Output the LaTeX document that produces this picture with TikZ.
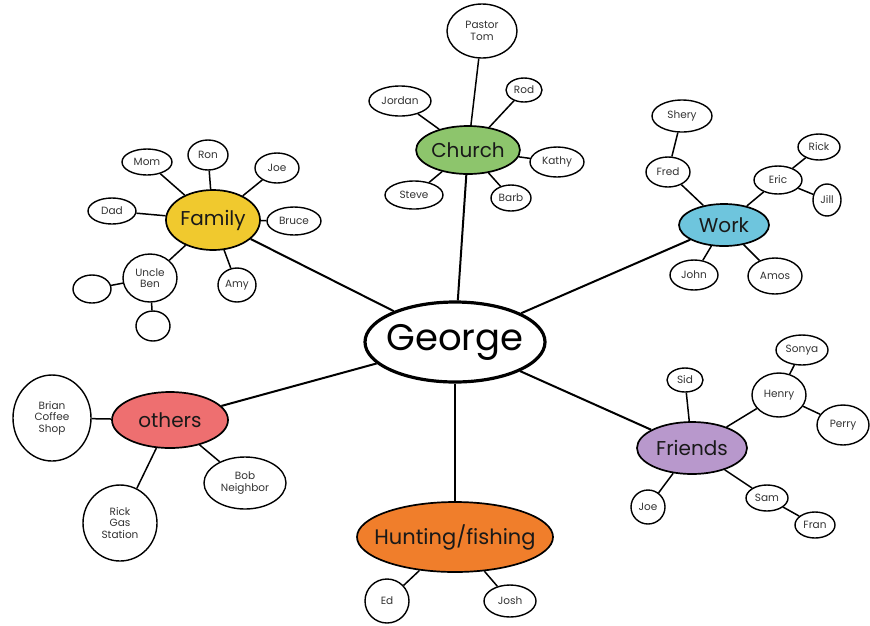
\documentclass[tikz,border=0pt]{standalone}
\usepackage{fontspec}
\setmainfont{Poppins}
\usetikzlibrary{shapes.geometric}
\definecolor{famc}{HTML}{F0C92E}
\definecolor{chc}{HTML}{8DC56C}
\definecolor{wkc}{HTML}{6EC5DD}
\definecolor{frc}{HTML}{B898CC}
\definecolor{otc}{HTML}{EE6F70}
\definecolor{huc}{HTML}{F07E2B}
\tikzset{
  leaf/.style={ellipse, draw=black, line width=1.4pt, inner sep=0pt, fill=white,
    font=\fontsize{10.5}{11.5}\selectfont, text=black!80, align=center},
  cat/.style={ellipse, draw=black, line width=1.7pt, inner sep=0pt,
    font=\fontsize{20}{22}\selectfont, text=black!90},
  main/.style={line width=2pt},
  sub/.style={line width=1.5pt}
}
\begin{document}
\begin{tikzpicture}[x=1pt,y=-1pt]
\useasboundingbox (0,0) rectangle (870,625);
% George
\node[ellipse, draw=black, line width=3.2pt, fill=white, inner sep=0pt, inner xsep=-16pt,
  minimum width=180pt, minimum height=80pt, font=\fontsize{37}{40}\selectfont] (george) at (455,342) {George};
% Family
\node[cat, fill=famc, minimum width=94pt, minimum height=60pt] (family) at (213,220) {Family};
\node[leaf, minimum width=50pt, minimum height=26pt] (mom) at (147,162) {Mom};
\node[leaf, minimum width=40pt, minimum height=30pt] (ron) at (208,155) {Ron};
\node[leaf, minimum width=44pt, minimum height=30pt] (joe1) at (277,168) {Joe};
\node[leaf, minimum width=48pt, minimum height=26pt] (dad) at (112,211) {Dad};
\node[leaf, minimum width=54pt, minimum height=28pt] (bruce) at (294,221) {Bruce};
\node[leaf, minimum width=54pt, minimum height=48pt] (ben) at (150,278) {Uncle\\Ben};
\node[leaf, minimum width=38pt, minimum height=34pt] (amy) at (237,285) {Amy};
\node[leaf, minimum width=38pt, minimum height=28pt] (e1) at (92,289) {};
\node[leaf, minimum width=34pt, minimum height=30pt] (e2) at (153,326) {};
% Church
\node[cat, fill=chc, minimum width=100pt, minimum height=48pt] (church) at (468,150) {Church};
\node[leaf, minimum width=70pt, minimum height=54pt] (pastor) at (482,31) {Pastor\\Tom};
\node[leaf, minimum width=62pt, minimum height=30pt] (jordan) at (400,101) {Jordan};
\node[leaf, minimum width=36pt, minimum height=24pt] (rod) at (524,90) {Rod};
\node[leaf, minimum width=54pt, minimum height=30pt] (kathy) at (557,162) {Kathy};
\node[leaf, minimum width=58pt, minimum height=28pt] (steve) at (414,195) {Steve};
\node[leaf, minimum width=40pt, minimum height=26pt] (barb) at (511,198) {Barb};
% Work
\node[cat, fill=wkc, minimum width=90pt, minimum height=42pt] (work) at (724,225) {Work};
\node[leaf, minimum width=60pt, minimum height=32pt] (shery) at (682,116) {Shery};
\node[leaf, minimum width=44pt, minimum height=30pt] (fred) at (668,172) {Fred};
\node[leaf, minimum width=48pt, minimum height=28pt] (eric) at (778,180) {Eric};
\node[leaf, minimum width=42pt, minimum height=26pt] (rick1) at (819,147) {Rick};
\node[leaf, minimum width=28pt, minimum height=32pt] (jill) at (827,200) {Jill};
\node[leaf, minimum width=48pt, minimum height=30pt] (john) at (694,275) {John};
\node[leaf, minimum width=54pt, minimum height=36pt] (amos) at (775,276) {Amos};
% Friends
\node[cat, fill=frc, minimum width=110pt, minimum height=52pt] (friends) at (692,448) {Friends};
\node[leaf, minimum width=36pt, minimum height=24pt] (sid) at (685,380) {Sid};
\node[leaf, minimum width=54pt, minimum height=44pt] (henry) at (779,395) {Henry};
\node[leaf, minimum width=52pt, minimum height=30pt] (sonya) at (802,350) {Sonya};
\node[leaf, minimum width=52pt, minimum height=40pt] (perry) at (843,425) {Perry};
\node[leaf, minimum width=34pt, minimum height=34pt] (joe2) at (648,507) {Joe};
\node[leaf, minimum width=42pt, minimum height=26pt] (sam) at (767,498) {Sam};
\node[leaf, minimum width=40pt, minimum height=26pt] (fran) at (815,525) {Fran};
% others
\node[cat, fill=otc, minimum width=116pt, minimum height=56pt] (others) at (170,420) {others};
\node[leaf, minimum width=78pt, minimum height=86pt] (brian) at (52,418) {Brian\\Coffee\\Shop};
\node[leaf, minimum width=74pt, minimum height=76pt] (rick2) at (120,523) {Rick\\Gas\\Station};
\node[leaf, minimum width=82pt, minimum height=52pt] (bob) at (245,483) {Bob\\Neighbor};
% Hunting
\node[cat, fill=huc, inner xsep=-20pt, minimum width=196pt, minimum height=70pt, font=\fontsize{21}{23}\selectfont] (hunt) at (455,537) {Hunting/fishing};
\node[leaf, minimum width=44pt, minimum height=44pt] (ed) at (387,601) {Ed};
\node[leaf, minimum width=52pt, minimum height=32pt] (josh) at (510,601) {Josh};
% main connectors
\draw[main] (george) -- (family);
\draw[main] (george) -- (church);
\draw[main] (george) -- (work);
\draw[main] (george) -- (friends);
\draw[main] (george) -- (others);
\draw[main] (george) -- (hunt);
% sub connectors
\foreach \a/\b in {family/mom, family/ron, family/joe1, family/dad, family/bruce, family/ben, family/amy, ben/e1, ben/e2,
  church/pastor, church/jordan, church/rod, church/kathy, church/steve, church/barb,
  work/fred, fred/shery, work/eric, eric/rick1, eric/jill, work/john, work/amos,
  friends/sid, friends/henry, henry/sonya, henry/perry, friends/joe2, friends/sam, sam/fran,
  others/brian, others/rick2, others/bob, hunt/ed, hunt/josh}
  \draw[sub] (\a) -- (\b);
\end{tikzpicture}
\end{document}
